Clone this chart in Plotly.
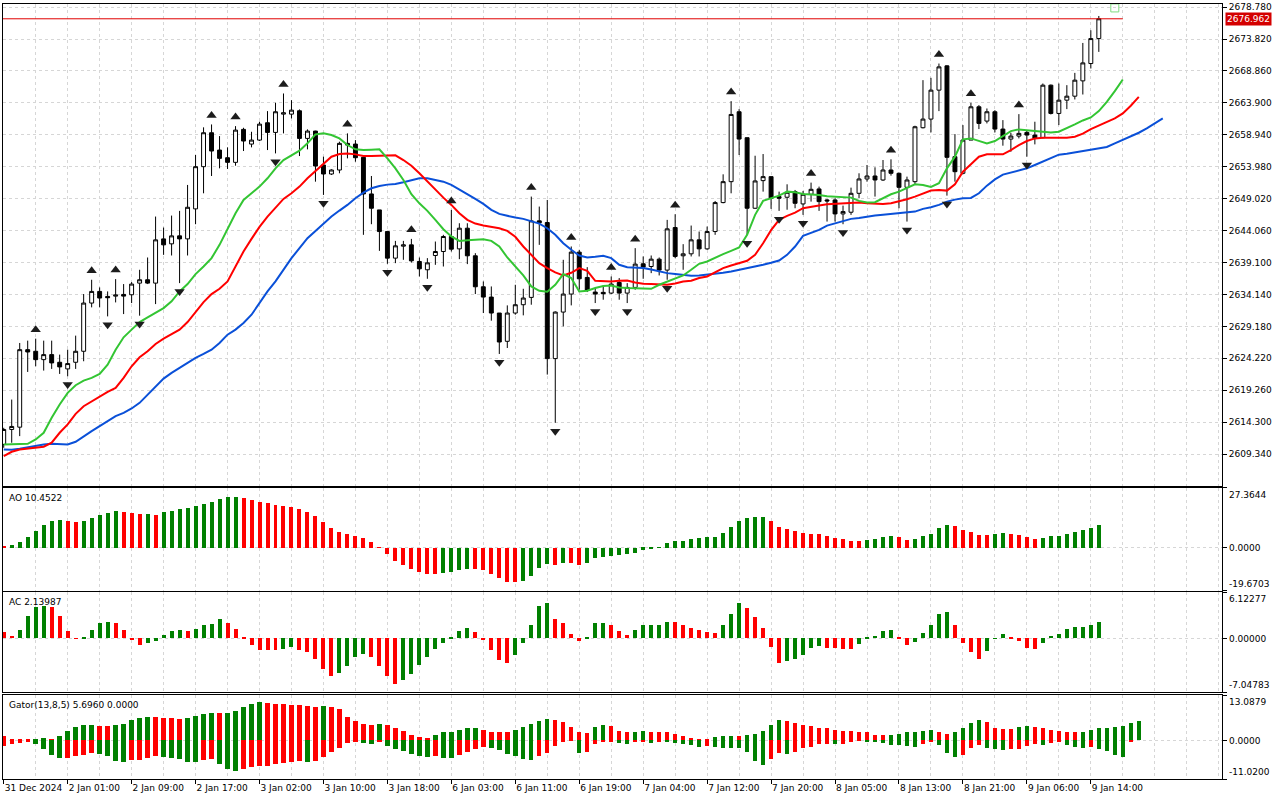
import plotly.graph_objects as go

# XAUUSD H1, 31 Dec 2024 .. 9 Jan 2025 (bar index 0 = first visible bar)
time_labels = ['31 Dec 2024', '2 Jan 01:00', '2 Jan 09:00', '2 Jan 17:00', '3 Jan 02:00',
               '3 Jan 10:00', '3 Jan 18:00', '6 Jan 03:00', '6 Jan 11:00', '6 Jan 19:00',
               '7 Jan 04:00', '7 Jan 12:00', '7 Jan 20:00', '8 Jan 05:00', '8 Jan 13:00',
               '8 Jan 21:00', '9 Jan 06:00', '9 Jan 14:00']
label_step = 8

opens = [2610.84, 2613.16, 2613.52, 2625.56, 2625.31, 2624.01, 2624.79, 2623.60, 2622.57, 2623.60,
         2625.31, 2632.80, 2634.61, 2633.83, 2633.88, 2634.14, 2634.09, 2635.90, 2636.42, 2635.90,
         2642.77, 2642.00, 2643.24, 2642.77, 2647.43, 2653.99, 2659.26, 2656.57, 2655.38, 2654.66,
         2659.78, 2657.50, 2658.12, 2660.81, 2659.31, 2662.15, 2662.15, 2662.67, 2658.38, 2659.52,
         2654.25, 2652.85, 2653.47, 2657.61, 2657.50, 2655.44, 2649.75, 2647.27, 2643.91, 2639.78,
         2641.64, 2641.84, 2639.26, 2637.97, 2640.19, 2640.81, 2643.14, 2641.22, 2644.43, 2640.14,
         2635.33, 2633.73, 2631.25, 2626.86, 2631.25, 2632.54, 2633.68, 2645.57, 2645.31, 2624.17,
         2631.40, 2634.20, 2640.71, 2636.78, 2634.51, 2634.46, 2634.35, 2636.00, 2634.35, 2635.23,
         2638.90, 2638.48, 2639.62, 2637.92, 2644.53, 2640.14, 2640.45, 2642.62, 2641.22, 2643.91,
         2648.41, 2651.66, 2662.52, 2658.49, 2647.53, 2651.82, 2652.44, 2649.34, 2649.24, 2650.11,
         2648.20, 2649.70, 2650.53, 2648.82, 2648.82, 2646.65, 2646.91, 2649.85, 2652.08, 2652.54,
         2651.92, 2653.47, 2652.96, 2650.78, 2651.66, 2660.04, 2661.38, 2665.88, 2669.65, 2655.54,
         2652.96, 2658.12, 2663.29, 2661.07, 2662.52, 2659.83, 2658.28, 2658.74, 2659.31, 2658.90,
         2658.49, 2666.65, 2662.26, 2664.32, 2664.94, 2667.32, 2670.01, 2673.89]
highs = [2613.42, 2617.81, 2626.60, 2626.96, 2627.27, 2626.96, 2626.96, 2624.79, 2625.56, 2627.74,
         2634.20, 2636.42, 2635.23, 2634.61, 2636.52, 2635.75, 2636.06, 2637.97, 2639.88, 2646.24,
         2644.53, 2646.39, 2647.12, 2651.15, 2655.80, 2660.10, 2660.55, 2658.74, 2656.99, 2660.29,
         2660.03, 2659.41, 2660.97, 2662.62, 2663.91, 2665.36, 2664.32, 2662.88, 2659.78, 2659.57,
         2655.54, 2653.58, 2657.87, 2659.16, 2658.12, 2655.54, 2652.54, 2647.27, 2643.91, 2642.46,
         2642.46, 2642.77, 2639.88, 2639.78, 2642.36, 2643.40, 2647.27, 2645.20, 2645.20, 2640.55,
         2636.16, 2635.38, 2631.25, 2632.44, 2635.64, 2635.02, 2649.34, 2647.79, 2648.82, 2631.51,
         2639.52, 2641.59, 2641.07, 2638.38, 2635.13, 2635.38, 2636.93, 2636.68, 2635.90, 2641.33,
         2640.04, 2640.19, 2639.88, 2645.72, 2646.60, 2641.95, 2644.84, 2643.91, 2644.69, 2648.66,
         2652.80, 2664.17, 2662.93, 2658.49, 2655.69, 2655.95, 2652.44, 2650.11, 2651.25, 2650.37,
         2650.22, 2651.51, 2650.89, 2648.98, 2649.08, 2647.94, 2650.73, 2652.96, 2654.25, 2653.89,
         2655.02, 2655.13, 2653.06, 2652.44, 2660.35, 2667.43, 2667.79, 2670.01, 2669.75, 2659.05,
         2660.45, 2663.91, 2663.55, 2663.03, 2662.77, 2661.22, 2659.26, 2662.15, 2659.67, 2660.97,
         2666.91, 2666.75, 2666.91, 2666.65, 2668.56, 2673.21, 2675.18, 2677.40]
lows = [2610.32, 2611.10, 2612.13, 2622.10, 2622.98, 2622.31, 2622.57, 2621.79, 2621.43, 2622.57,
        2623.76, 2632.13, 2632.13, 2630.73, 2632.90, 2631.09, 2632.80, 2630.84, 2635.75, 2632.64,
        2640.29, 2640.19, 2635.90, 2640.19, 2645.05, 2649.85, 2652.54, 2653.73, 2653.63, 2654.14,
        2656.42, 2656.99, 2657.97, 2656.57, 2656.05, 2659.16, 2661.48, 2655.64, 2656.68, 2651.66,
        2649.60, 2652.70, 2652.96, 2655.28, 2654.76, 2643.40, 2645.05, 2640.91, 2638.90, 2639.00,
        2639.52, 2639.10, 2636.93, 2636.57, 2638.74, 2638.48, 2640.81, 2639.62, 2638.85, 2634.20,
        2631.25, 2630.06, 2624.89, 2625.82, 2630.99, 2630.89, 2632.54, 2641.84, 2621.69, 2614.20,
        2629.18, 2632.44, 2634.87, 2634.51, 2632.80, 2633.32, 2634.20, 2633.32, 2632.80, 2634.87,
        2636.57, 2637.45, 2637.09, 2636.42, 2639.78, 2637.97, 2640.04, 2640.04, 2641.07, 2643.40,
        2648.30, 2649.85, 2655.80, 2643.40, 2647.43, 2650.11, 2647.43, 2647.12, 2647.30, 2647.53,
        2646.50, 2648.56, 2647.12, 2645.46, 2645.46, 2645.05, 2646.50, 2649.08, 2651.66, 2649.34,
        2651.77, 2652.59, 2647.53, 2645.46, 2651.25, 2659.93, 2659.31, 2662.62, 2649.49, 2651.66,
        2652.80, 2658.12, 2659.83, 2660.71, 2659.31, 2657.25, 2656.31, 2658.38, 2655.54, 2657.45,
        2658.38, 2662.10, 2660.45, 2662.93, 2664.43, 2665.20, 2669.24, 2671.82]
closes = [2613.16, 2613.63, 2625.56, 2625.20, 2624.01, 2624.79, 2623.50, 2622.88, 2623.40, 2625.31,
          2632.80, 2634.61, 2633.58, 2633.63, 2634.04, 2633.88, 2635.75, 2636.42, 2635.90, 2642.62,
          2641.84, 2643.24, 2642.77, 2647.68, 2653.99, 2659.26, 2656.42, 2655.28, 2654.66, 2659.67,
          2657.97, 2658.12, 2660.60, 2659.31, 2662.52, 2662.36, 2662.77, 2658.38, 2659.52, 2654.09,
          2652.85, 2653.47, 2657.61, 2657.35, 2655.38, 2649.75, 2647.53, 2643.91, 2639.78, 2641.69,
          2641.84, 2639.36, 2638.12, 2639.05, 2640.81, 2643.14, 2641.17, 2644.43, 2640.14, 2635.33,
          2633.73, 2631.25, 2626.75, 2631.25, 2632.54, 2633.58, 2645.57, 2645.26, 2624.17, 2631.40,
          2634.20, 2640.71, 2636.57, 2634.82, 2634.20, 2634.25, 2635.75, 2634.35, 2635.23, 2638.85,
          2638.38, 2639.62, 2637.92, 2644.33, 2640.04, 2640.45, 2642.62, 2641.22, 2643.91, 2648.41,
          2651.66, 2662.10, 2658.28, 2647.53, 2651.77, 2652.44, 2649.08, 2649.08, 2650.01, 2648.30,
          2649.70, 2650.47, 2648.56, 2648.67, 2646.65, 2647.01, 2649.85, 2652.08, 2652.54, 2651.92,
          2653.47, 2652.96, 2650.78, 2651.92, 2660.19, 2661.38, 2665.88, 2669.49, 2655.44, 2653.21,
          2658.12, 2663.29, 2660.71, 2662.52, 2659.83, 2658.28, 2658.74, 2659.16, 2658.90, 2658.38,
          2666.65, 2662.26, 2664.32, 2664.94, 2667.43, 2670.11, 2673.89, 2676.962]

# Bill Williams fractals (bar indices)
fractal_up = [4, 11, 14, 26, 29, 35, 43, 51, 56, 66, 71, 76, 79, 84, 91, 101, 111, 117, 121, 127]
fractal_down = [8, 13, 17, 22, 34, 40, 48, 53, 62, 69, 74, 78, 83, 93, 97, 100, 105, 113, 118, 128]

# Alligator lines as drawn (already shifted: lips +3, teeth +5, jaw +8 bars)
lips = [2610.84, 2610.84, 2610.89, 2610.94, 2611.61, 2612.65, 2614.97, 2617.04, 2618.85, 2620.04,
        2620.76, 2621.17, 2621.79, 2623.24, 2625.56, 2627.48, 2628.67, 2629.85, 2630.58, 2631.25,
        2632.02, 2633.06, 2634.61, 2635.75, 2637.30, 2638.49, 2639.78, 2641.84, 2644.43, 2646.75,
        2648.82, 2649.85, 2650.89, 2652.18, 2653.73, 2655.02, 2655.80, 2656.47, 2657.61, 2659.00,
        2659.16, 2658.90, 2658.38, 2657.35, 2656.68, 2656.57, 2656.62, 2656.68, 2655.28, 2653.73,
        2651.92, 2649.70, 2648.30, 2647.12, 2645.72, 2644.27, 2643.14, 2642.46, 2642.57, 2642.67,
        2642.72, 2642.46, 2641.59, 2639.88, 2638.49, 2637.09, 2635.38, 2634.71, 2634.56, 2635.64,
        2637.30, 2636.68, 2634.61, 2634.71, 2635.13, 2635.44, 2635.54, 2635.23, 2635.13, 2635.13,
        2635.13, 2635.02, 2635.64, 2636.16, 2636.57, 2637.09, 2637.97, 2638.90, 2639.26, 2639.88,
        2640.40, 2640.91, 2641.43, 2643.40, 2646.50, 2648.67, 2649.08, 2649.49, 2650.11, 2650.01,
        2649.75, 2649.70, 2649.60, 2649.39, 2649.34, 2649.34, 2649.18, 2648.67, 2648.41, 2648.46,
        2649.08, 2649.70, 2650.11, 2650.63, 2651.25, 2651.15, 2650.84, 2651.41, 2653.73, 2655.54,
        2658.23, 2658.38, 2657.97, 2657.61, 2657.97, 2658.79, 2659.52, 2659.78, 2659.67, 2659.52,
        2659.41, 2659.31, 2659.41, 2659.93, 2660.55, 2661.17, 2661.64, 2662.62, 2664.07, 2665.72,
        2667.53]
teeth = [2609.03, 2609.70, 2610.06, 2610.22, 2610.32, 2610.48, 2611.10, 2612.65, 2613.94, 2615.59,
         2616.78, 2617.55, 2618.33, 2619.00, 2619.62, 2621.17, 2622.98, 2624.38, 2625.31, 2626.44,
         2627.27, 2627.99, 2628.67, 2629.85, 2631.40, 2632.95, 2634.20, 2635.02, 2636.16, 2638.49,
         2640.81, 2642.77, 2644.64, 2646.24, 2647.63, 2648.98, 2649.85, 2650.89, 2652.18, 2653.32,
         2654.51, 2655.54, 2655.95, 2656.05, 2655.90, 2655.64, 2655.64, 2655.69, 2655.80, 2655.75,
         2655.02, 2654.14, 2652.96, 2651.66, 2650.37, 2649.18, 2648.05, 2646.75, 2645.72, 2645.15,
         2644.84, 2644.69, 2644.43, 2644.01, 2643.09, 2641.59, 2640.29, 2639.00, 2638.23, 2637.56,
         2637.09, 2637.50, 2638.23, 2637.81, 2636.26, 2636.16, 2636.16, 2636.26, 2636.31, 2636.00,
         2635.80, 2635.75, 2635.64, 2635.64, 2635.85, 2636.16, 2636.26, 2636.68, 2636.93, 2637.61,
         2638.23, 2638.64, 2639.00, 2639.36, 2640.29, 2642.10, 2644.12, 2645.72, 2646.34, 2646.86,
         2647.53, 2647.79, 2647.94, 2648.15, 2648.20, 2648.30, 2648.36, 2648.41, 2648.30, 2648.20,
         2648.20, 2648.30, 2648.56, 2648.92, 2649.34, 2649.85, 2650.27, 2650.37, 2650.27, 2651.25,
         2653.21, 2654.35, 2655.54, 2655.90, 2655.90, 2655.90, 2656.57, 2657.35, 2657.97, 2658.38,
         2658.49, 2658.49, 2658.49, 2658.49, 2658.64, 2659.11, 2659.83, 2660.35, 2660.86, 2661.48,
         2662.26, 2663.45, 2664.84]
jaw = [2610.06, 2610.01, 2610.17, 2610.42, 2610.58, 2610.84, 2610.94, 2610.94, 2610.84, 2611.25,
       2612.13, 2612.90, 2613.68, 2614.45, 2615.23, 2615.75, 2616.42, 2617.30, 2618.59, 2619.88,
       2621.07, 2621.95, 2622.72, 2623.50, 2624.27, 2624.89, 2625.56, 2626.60, 2627.89, 2628.67,
       2629.70, 2630.99, 2632.80, 2634.61, 2636.16, 2637.97, 2639.78, 2641.33, 2642.88, 2644.01,
       2645.20, 2646.24, 2647.17, 2648.05, 2649.08, 2649.96, 2650.63, 2650.99, 2651.20, 2651.30,
       2651.56, 2651.92, 2652.18, 2652.18, 2651.97, 2651.66, 2651.15, 2650.47, 2649.75, 2648.98,
       2648.20, 2647.27, 2646.65, 2646.34, 2646.08, 2645.88, 2645.57, 2645.15, 2644.43, 2643.40,
       2642.10, 2641.07, 2640.19, 2639.88, 2639.98, 2640.14, 2639.78, 2638.74, 2638.38, 2638.33,
       2638.23, 2638.02, 2637.71, 2637.45, 2637.30, 2637.14, 2637.04, 2637.09, 2637.19, 2637.30,
       2637.50, 2637.71, 2637.97, 2638.23, 2638.38, 2638.74, 2639.05, 2639.41, 2640.29, 2641.59,
       2643.24, 2643.65, 2644.17, 2644.84, 2645.20, 2645.57, 2645.88, 2646.03, 2646.24, 2646.39,
       2646.50, 2646.60, 2646.70, 2646.81, 2647.01, 2647.43, 2647.68, 2648.05, 2648.56, 2648.87,
       2649.08, 2649.13, 2649.85, 2651.04, 2652.02, 2652.75, 2653.06, 2653.37, 2653.73, 2654.25,
       2654.76, 2655.38, 2655.85, 2656.00, 2656.21, 2656.47, 2656.68, 2656.78, 2657.04, 2657.61,
       2658.12, 2658.64, 2659.26, 2659.93, 2660.66, 2661.48]

# Awesome Oscillator, g = rising bar, r = falling bar
ao = [1.0, 1.2, 2.6, 5.0, 7.6, 10.5, 12.2, 12.6, 12.2, 11.7,
      12.2, 13.5, 15.1, 15.8, 16.7, 16.6, 15.8, 15.4, 15.5, 15.2,
      16.3, 16.7, 17.7, 18.3, 18.9, 19.9, 20.9, 22.2, 23.1, 23.3,
      22.7, 21.8, 20.9, 20.4, 19.5, 19.0, 18.6, 17.7, 16.3, 14.5,
      11.7, 9.0, 7.2, 6.1, 5.3, 4.4, 2.7, 0.3, -2.7, -6.1,
      -7.9, -9.6, -11.0, -11.9, -12.0, -11.7, -11.0, -10.3, -9.7, -9.9,
      -10.2, -11.9, -13.7, -15.5, -15.7, -15.1, -12.8, -9.1, -7.3, -7.8,
      -6.8, -6.9, -7.8, -6.8, -4.9, -4.1, -3.7, -3.5, -3.0, -2.3,
      -0.8, -0.3, 0.15, 2.3, 3.0, 3.05, 4.1, 4.4, 4.9, 5.0,
      6.7, 9.4, 12.2, 13.5, 14.0, 14.2, 12.2, 9.4, 8.5, 7.6,
      6.7, 6.4, 6.1, 5.3, 4.4, 4.0, 3.0, 2.9, 3.5, 4.0,
      4.9, 5.3, 4.9, 3.5, 4.0, 5.3, 6.2, 9.0, 10.3, 9.9,
      8.1, 7.2, 5.9, 5.8, 6.2, 6.7, 6.2, 5.8, 4.9, 4.0,
      4.4, 5.3, 5.5, 6.2, 7.2, 8.1, 9.0, 10.4522]
ao_dir = ("rgggggggrr" "gggggrrrgr" "gggggggggg" "rrrrrrrrrr" "rrrrrrrrrr"
          "rrrrrggggr" "rrrrrggggr" "grrggggggg" "gggggggggg" "ggggggrrrr"
          "rrrrrrrrgg" "ggrrgggggr" "rrrrggrrrr" "gggggggg")
ao_min, ao_max = -19.6703, 27.3644

# Accelerator Oscillator
ac = [0.8, 0.35, 1.15, 2.9, 4.2, 4.25, 4.15, 3.0, 1.0, -0.08,
      0.05, 1.15, 2.0, 2.15, 2.0, 1.1, -0.1, -0.9, -0.65, -0.4,
      0.5, 1.0, 1.15, 1.0, 1.3, 1.7, 1.95, 2.5, 2.0, 1.3,
      0.05, -0.9, -1.5, -1.52, -1.6, -1.35, -1.1, -1.5, -1.85, -2.7,
      -4.1, -4.95, -4.55, -3.6, -2.4, -2.0, -2.4, -3.6, -4.95, -6.0,
      -5.5, -4.7, -3.5, -2.5, -1.35, -0.55, 0.2, 1.0, 1.35, 0.85,
      -0.12, -1.6, -2.8, -3.3, -2.25, -0.65, 1.7, 4.3, 4.7, 2.5,
      2.0, 0.6, -0.4, 0.2, 2.0, 2.05, 1.7, 1.0, 0.5, 1.15,
      1.7, 1.75, 1.8, 2.15, 2.1, 1.7, 1.35, 1.05, 0.9, 0.75,
      1.75, 3.2, 4.7, 4.05, 2.85, 1.4, -1.2, -3.3, -3.05, -2.7,
      -2.25, -1.3, -1.05, -1.3, -1.33, -1.36, -1.4, -0.8, 0.05, 0.35,
      1.0, 1.05, 0.2, -0.9, -0.5, 0.75, 1.7, 3.25, 3.5, 1.7,
      -0.65, -1.85, -2.7, -1.7, -0.05, 0.6, 0.05, -0.4, -1.3, -1.45,
      -0.65, 0.35, 0.6, 1.3, 1.55, 1.56, 1.7, 2.13987]
ac_dir = ("rrggggrrrr" "ggggrrrrgg" "gggrggggrr" "rrrrrggrrr" "rrggggrrrr"
          "gggggggggr" "rrrrgggggr" "rrrgggrrrg" "ggggrrrrrr" "gggrrrrrgg"
          "gggrrrrggg" "ggrrgggggr" "rrrgggrrrr" "gggggggg")
ac_min, ac_max = -7.04783, 6.12277

# Gator oscillator (13,8,5): upper = |jaw-teeth|, lower = -|teeth-lips|
gator_up = [1.24, 0.29, 0.29, 0.19, 0.57, 0.60, 0.29, 1.15, 2.68, 4.02,
            4.59, 4.60, 4.31, 4.30, 4.40, 4.88, 6.03, 6.60, 6.89, 6.85,
            6.60, 6.55, 6.32, 6.60, 7.18, 7.75, 8.04, 8.00, 8.05, 8.61,
            9.76, 10.62, 11.20, 10.91, 10.62, 10.58, 10.34, 10.30, 10.05, 9.76,
            9.80, 9.75, 9.19, 6.89, 5.74, 4.88, 4.59, 4.88, 4.55, 3.45,
            2.68, 1.72, 0.96, 0.67, 1.72, 2.30, 2.58, 3.16, 3.45, 3.50,
            3.16, 2.58, 2.30, 2.39, 2.97, 3.83, 4.69, 5.55, 6.12, 5.84,
            5.26, 3.83, 2.39, 2.10, 3.83, 4.40, 4.12, 2.68, 2.39, 2.45,
            2.68, 2.40, 2.39, 2.38, 1.82, 1.24, 0.67, 0.38, 0.19, 0.86,
            1.15, 1.24, 1.15, 1.44, 2.01, 2.87, 4.59, 6.03, 5.74, 5.17,
            4.59, 4.31, 3.73, 3.45, 3.16, 2.87, 2.78, 2.58, 2.30, 1.72,
            1.44, 1.72, 2.01, 2.30, 2.58, 2.87, 2.97, 2.58, 2.01, 2.30,
            3.73, 5.17, 6.03, 5.45, 3.45, 3.35, 3.25, 4.02, 4.31, 4.02,
            3.45, 3.16, 2.87, 2.58, 2.50, 2.58, 3.16, 3.45, 3.73, 3.83,
            4.31, 5.17, 5.696]
gator_up_dir = ("rrrrggrggg" "ggrrgggggr" "rrrggggrgg" "gggrrrrrrr" "grrrrrrgrr"
                "rrrrgggggg" "rrrrgggggr" "rrrrggrrrg" "grrrrrrrrg" "ggrgggggrr"
                "rrrrrrrrrr" "rggggggrrg" "gggrrrrggr" "rrrrrggggg" "ggg")
gator_dn = [-1.63, -1.15, -0.67, -0.48, -1.15, -2.49, -4.31, -5.17, -5.07, -4.59,
            -4.31, -3.73, -4.02, -4.59, -6.03, -6.32, -5.74, -5.65, -5.17, -4.59,
            -4.69, -5.17, -5.45, -6.22, -6.32, -5.74, -5.45, -6.89, -8.33, -8.90,
            -8.33, -7.75, -7.46, -7.37, -6.89, -6.60, -6.32, -6.03, -6.12, -5.93,
            -4.88, -3.45, -2.30, -0.86, -0.57, -0.67, -1.15, -0.29, -1.72, -2.39,
            -3.06, -4.02, -4.59, -4.88, -4.59, -4.90, -4.98, -4.31, -3.45, -2.58,
            -2.01, -2.10, -2.87, -4.02, -4.59, -5.45, -5.74, -4.59, -3.73, -1.72,
            -0.57, -0.05, -3.73, -3.45, -1.15, -0.57, -0.29, -0.86, -1.15, -0.57,
            -0.55, -0.86, -0.29, -0.57, -0.86, -0.90, -1.44, -2.01, -1.72, -2.01,
            -2.10, -2.20, -2.30, -3.45, -6.03, -7.18, -5.45, -3.73, -4.02, -3.45,
            -2.30, -2.01, -1.15, -1.05, -1.15, -1.05, -0.57, -0.10, -0.29, -0.57,
            -0.86, -1.34, -1.44, -1.53, -2.01, -1.15, -0.29, -1.44, -3.73, -4.88,
            -4.31, -2.30, -1.44, -2.30, -2.58, -2.87, -2.58, -2.49, -1.72, -1.15,
            -1.24, -0.86, -0.57, -1.44, -2.01, -2.10, -1.90, -2.58, -3.16, -4.31,
            -4.88, -0.29, 0.0]
gator_dn_dir = ("rrrrggggrr" "rrggggrrrr" "gggggrrggg" "rrrrrrrrgr" "rrrrrggrgg"
                "ggggrggrrr" "rggggggrrr" "rrgrrrrggr" "rgrgggggrg" "ggggggrrgr"
                "rrrrgrrrgg" "gggggrrggg" "rrrgggrrrr" "grrgggrggg" "grr")
gator_min, gator_max = -11.0200, 13.0879

# ---- styling ----
FONT = "DejaVu Sans"
GRID = "#d6d6d6"
UP, DOWN = "#008000", "#ff0000"
COLS = {"g": UP, "r": DOWN}

n = len(closes)
bars = list(range(n))
tick_pos = [i * label_step for i in range(len(time_labels))]
x_range = [-0.09, 152.41]

fig = go.Figure()

fig.add_trace(go.Candlestick(
    x=bars, open=opens, high=highs, low=lows, close=closes,
    increasing=dict(line=dict(color="black", width=1), fillcolor="white"),
    decreasing=dict(line=dict(color="black", width=1), fillcolor="black"),
    whiskerwidth=0, showlegend=False, xaxis="x", yaxis="y"))

for line, col in [(jaw, "#0a50d8"), (teeth, "#ff0000"), (lips, "#33c533")]:
    fig.add_trace(go.Scatter(x=list(range(len(line))), y=line, mode="lines",
                             line=dict(color=col, width=2), showlegend=False,
                             xaxis="x", yaxis="y"))

# fractal arrows sit a little above the high / below the low
fig.add_trace(go.Scatter(x=fractal_up, y=[highs[i] + 1.4 for i in fractal_up], mode="markers",
                         marker=dict(symbol="triangle-up", size=9, color="#1c1c1c"),
                         showlegend=False, xaxis="x", yaxis="y"))
fig.add_trace(go.Scatter(x=fractal_down, y=[lows[i] - 1.3 for i in fractal_down], mode="markers",
                         marker=dict(symbol="triangle-down", size=9, color="#1c1c1c"),
                         showlegend=False, xaxis="x", yaxis="y"))

# small shift marker at the top right
fig.add_trace(go.Scatter(x=[n + 1], y=[2678.65], mode="markers",
                         marker=dict(symbol="square-open", size=8, color="#7fdc7f", line=dict(width=1)),
                         showlegend=False, xaxis="x", yaxis="y"))

fig.add_trace(go.Bar(x=list(range(len(ao))), y=ao, marker_color=[COLS[c] for c in ao_dir],
                     marker_line_width=0, width=0.5, showlegend=False, xaxis="x2", yaxis="y2"))
fig.add_trace(go.Bar(x=list(range(len(ac))), y=ac, marker_color=[COLS[c] for c in ac_dir],
                     marker_line_width=0, width=0.5, showlegend=False, xaxis="x3", yaxis="y3"))
fig.add_trace(go.Bar(x=list(range(len(gator_up))), y=gator_up,
                     marker_color=[COLS[c] for c in gator_up_dir],
                     marker_line_width=0, width=0.55, showlegend=False, xaxis="x4", yaxis="y4"))
fig.add_trace(go.Bar(x=list(range(len(gator_dn))), y=gator_dn,
                     marker_color=[COLS[c] for c in gator_dn_dir],
                     marker_line_width=0, width=0.55, showlegend=False, xaxis="x4", yaxis="y4"))


def xaxis(anchor, labels=False):
    ax = dict(anchor=anchor, domain=[0, 1], range=x_range, tickmode="array", tickvals=tick_pos,
              ticktext=time_labels if labels else [""] * len(tick_pos),
              showgrid=True, gridcolor=GRID, griddash="3px,3px", gridwidth=1,
              minor=dict(tickmode="linear", tick0=0, dtick=4, showgrid=True, gridcolor=GRID,
                         griddash="3px,3px", ticks=""),
              showline=True, mirror=True, linecolor="black", linewidth=1, zeroline=False,
              ticks="outside" if labels else "", ticklen=4, tickcolor="black",
              rangeslider=dict(visible=False), fixedrange=True)
    if labels:
        ax["ticklabelposition"] = "outside right"
    if anchor != "y":
        ax["matches"] = "x"
    return ax


def sub_yaxis(domain, lo, hi, xa):
    return dict(anchor=xa, domain=domain, range=[lo, hi], side="right",
                tickmode="array", tickvals=[lo, 0, hi], showticklabels=False,
                ticks="outside", ticklen=4, tickcolor="black",
                showgrid=True, gridcolor=GRID, griddash="3px,3px",
                showline=True, mirror=True, linecolor="black", linewidth=1, zeroline=False,
                fixedrange=True)


fig.update_layout(
    width=1280, height=800,
    margin=dict(l=2, r=58, t=2, b=21),
    paper_bgcolor="white", plot_bgcolor="white",
    font=dict(family=FONT, size=9, color="black"),
    barmode="overlay", bargap=0, hovermode=False,
    xaxis=xaxis("y"), xaxis2=xaxis("y2"), xaxis3=xaxis("y3"), xaxis4=xaxis("y4", labels=True),
    yaxis=dict(anchor="x", domain=[0.3784, 1.0], range=[2604.42, 2679.26], side="right",
               tickmode="linear", tick0=2609.34, dtick=4.96, tickformat=".3f",
               ticks="outside", ticklen=4, tickcolor="black",
               showgrid=True, gridcolor=GRID, griddash="3px,3px",
               showline=True, mirror=True, linecolor="black", linewidth=1, zeroline=False,
               fixedrange=True),
    yaxis2=sub_yaxis([0.2432, 0.3758], ao_min, ao_max, "x2"),
    yaxis3=sub_yaxis([0.1120, 0.2407], ac_min, ac_max, "x3"),
    yaxis4=sub_yaxis([0.0, 0.1081], gator_min, gator_max, "x4"),
)

# current price line and its label
fig.add_shape(type="line", xref="x", yref="y", x0=x_range[0], x1=n + 2,
              y0=closes[-1], y1=closes[-1], line=dict(color="#e00000", width=1))
fig.add_annotation(xref="paper", x=1, xanchor="left", xshift=3, yref="y", y=closes[-1],
                   text=f"{closes[-1]:.3f}", showarrow=False, bgcolor="#d40000",
                   font=dict(color="white", size=9, family=FONT), borderpad=1)

# indicator captions
captions = [("y2", f"AO {ao[-1]:.4f}"), ("y3", f"AC {ac[-1]:.5f}"),
            ("y4", f"Gator(13,8,5) {gator_up[-1]:.4f} {abs(gator_dn[-1]):.4f}")]
for ya, txt in captions:
    fig.add_annotation(xref="paper", x=0, xanchor="left", xshift=4, yref=f"{ya} domain", y=1,
                       yanchor="top", yshift=-3, text=txt, showarrow=False)

# min / zero / max labels on the indicator scales
scales = [("y2", ao_min, ao_max, 4), ("y3", ac_min, ac_max, 5), ("y4", gator_min, gator_max, 4)]
for ya, lo, hi, dec in scales:
    for val, anchor in [(hi, "top"), (0, "middle"), (lo, "bottom")]:
        fig.add_annotation(xref="paper", x=1, xanchor="left", xshift=5, yref=ya, y=val,
                           yanchor=anchor, text=f"{val:.{dec}f}", showarrow=False)

# the page should start at the window's corner, like the terminal screenshot
fig.write_html("out.html", config={"displayModeBar": False},
               post_script="document.body.style.margin='0';")
